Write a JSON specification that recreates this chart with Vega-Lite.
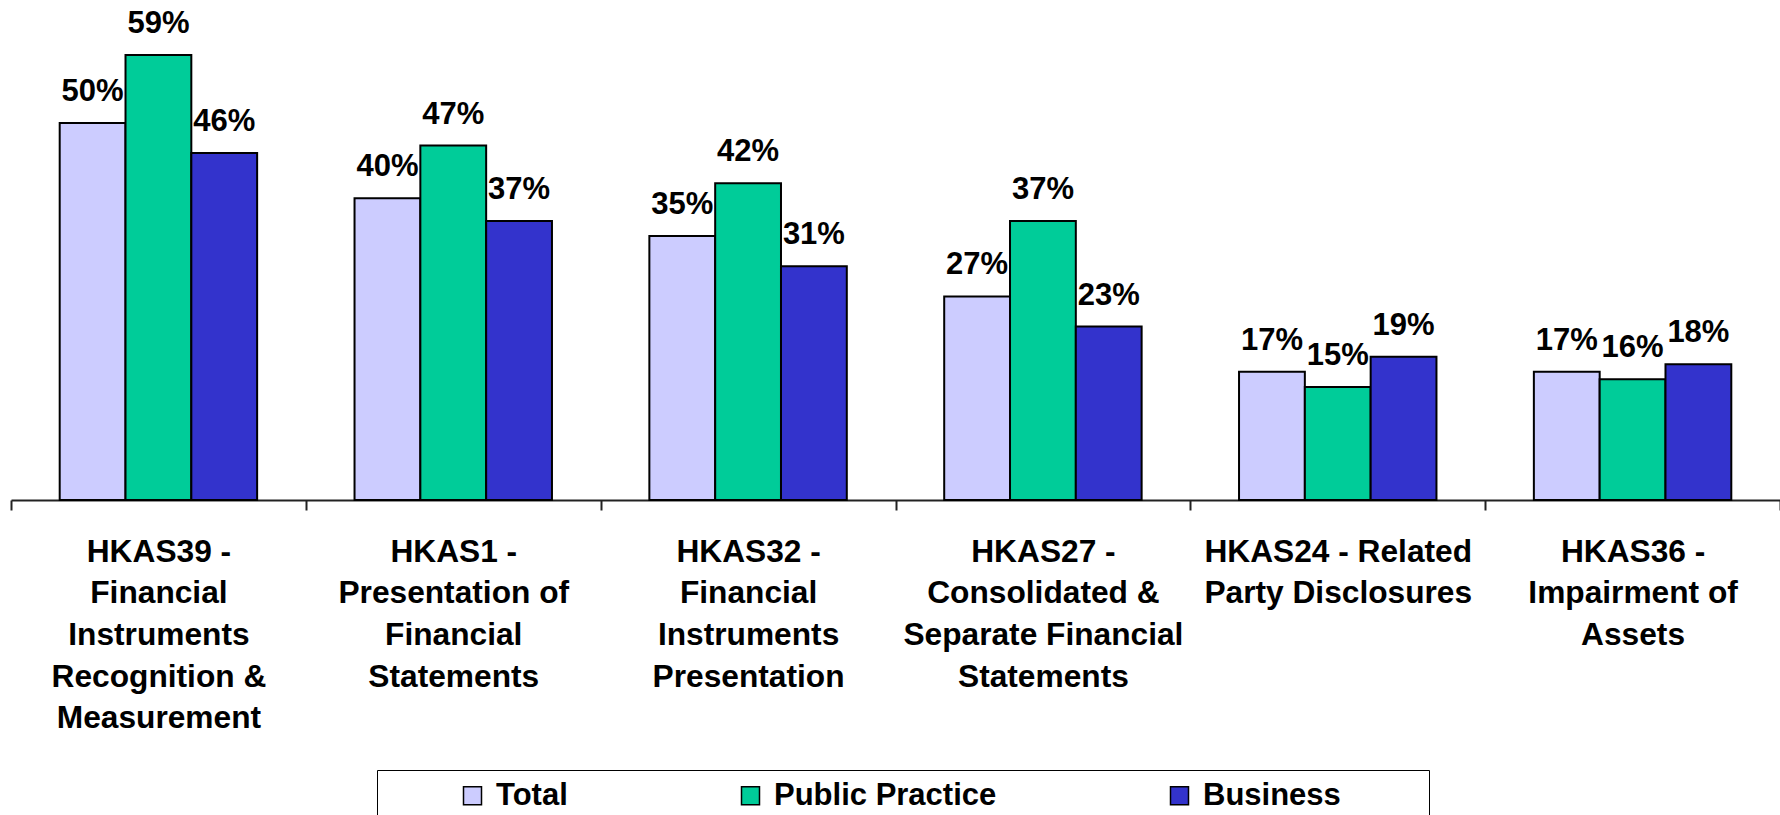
{
  "$schema": "https://vega.github.io/schema/vega-lite/v6.json",
  "autosize": {"type": "none"},
  "padding": {"left": 11, "top": 0, "right": 0, "bottom": 315},
  "width": 1769,
  "height": 500,
  "background": "white",
  "config": {"view": {"stroke": null}, "font": "Liberation Sans"},
  "data": {
    "values": [
      {"standard": "HKAS39 -|Financial|Instruments|Recognition &|Measurement", "group": "Total", "share": 0.50},
      {"standard": "HKAS39 -|Financial|Instruments|Recognition &|Measurement", "group": "Public Practice", "share": 0.59},
      {"standard": "HKAS39 -|Financial|Instruments|Recognition &|Measurement", "group": "Business", "share": 0.46},
      {"standard": "HKAS1 -|Presentation of|Financial|Statements", "group": "Total", "share": 0.40},
      {"standard": "HKAS1 -|Presentation of|Financial|Statements", "group": "Public Practice", "share": 0.47},
      {"standard": "HKAS1 -|Presentation of|Financial|Statements", "group": "Business", "share": 0.37},
      {"standard": "HKAS32 -|Financial|Instruments|Presentation", "group": "Total", "share": 0.35},
      {"standard": "HKAS32 -|Financial|Instruments|Presentation", "group": "Public Practice", "share": 0.42},
      {"standard": "HKAS32 -|Financial|Instruments|Presentation", "group": "Business", "share": 0.31},
      {"standard": "HKAS27 -|Consolidated &|Separate Financial|Statements", "group": "Total", "share": 0.27},
      {"standard": "HKAS27 -|Consolidated &|Separate Financial|Statements", "group": "Public Practice", "share": 0.37},
      {"standard": "HKAS27 -|Consolidated &|Separate Financial|Statements", "group": "Business", "share": 0.23},
      {"standard": "HKAS24 - Related|Party Disclosures", "group": "Total", "share": 0.17},
      {"standard": "HKAS24 - Related|Party Disclosures", "group": "Public Practice", "share": 0.15},
      {"standard": "HKAS24 - Related|Party Disclosures", "group": "Business", "share": 0.19},
      {"standard": "HKAS36 -|Impairment of|Assets", "group": "Total", "share": 0.17},
      {"standard": "HKAS36 -|Impairment of|Assets", "group": "Public Practice", "share": 0.16},
      {"standard": "HKAS36 -|Impairment of|Assets", "group": "Business", "share": 0.18}
    ]
  },
  "encoding": {
    "x": {
      "field": "standard",
      "type": "nominal",
      "sort": null,
      "scale": {"paddingInner": 0, "paddingOuter": 0},
      "axis": {
        "title": null,
        "labelExpr": "split(datum.label, '|')",
        "labelAngle": 0,
        "labelFont": "Liberation Sans",
        "labelFontSize": 31.7,
        "labelFontWeight": "bold",
        "labelColor": "black",
        "labelLineHeight": 41.7,
        "labelBaseline": "top",
        "labelPadding": 26,
        "labelLimit": 1000,
        "labelOverlap": false,
        "labelFlush": false,
        "domainColor": "#222222",
        "domainWidth": 2,
        "tickColor": "#222222",
        "tickWidth": 2,
        "tickSize": 10,
        "tickBand": "extent",
        "grid": false
      }
    },
    "xOffset": {
      "field": "group",
      "type": "nominal",
      "sort": ["Total", "Public Practice", "Business"],
      "scale": {"paddingInner": 0, "paddingOuter": 0.74}
    },
    "y": {
      "field": "share",
      "type": "quantitative",
      "scale": {"domain": [0, 0.663]},
      "axis": null
    }
  },
  "layer": [
    {
      "mark": {"type": "bar", "stroke": "black", "strokeWidth": 2},
      "encoding": {
        "color": {
          "field": "group",
          "type": "nominal",
          "scale": {
            "domain": ["Total", "Public Practice", "Business"],
            "range": ["#CCCCFF", "#00CC99", "#3333CC"]
          },
          "legend": {
            "orient": "none",
            "legendX": 366,
            "legendY": 770,
            "direction": "horizontal",
            "columns": 3,
            "title": " ",
            "titleOrient": "left",
            "titlePadding": 70,
            "titleFontSize": 31,
            "padding": 10,
            "strokeColor": "black",
            "fillColor": "white",
            "symbolType": "square",
            "symbolSize": 324,
            "symbolStrokeColor": "black",
            "symbolStrokeWidth": 1.5,
            "symbolOpacity": 1,
            "labelFont": "Liberation Sans",
            "labelFontSize": 31,
            "labelFontWeight": "bold",
            "labelColor": "black",
            "labelOffset": 8,
            "labelLimit": 1000,
            "columnPadding": 167,
            "labelExpr": "datum.label == 'Business' ? datum.label + '\u00a0\u00a0\u00a0\u00a0\u00a0\u00a0\u00a0\u00a0\u00a0\u200b' : datum.label"
          }
        }
      }
    },
    {
      "mark": {
        "type": "text",
        "font": "Liberation Sans",
        "fontSize": 31,
        "fontWeight": "bold",
        "color": "black",
        "baseline": "alphabetic",
        "align": "center",
        "dy": -22
      },
      "encoding": {
        "text": {"field": "share", "type": "quantitative", "format": ".0%"}
      }
    }
  ]
}
